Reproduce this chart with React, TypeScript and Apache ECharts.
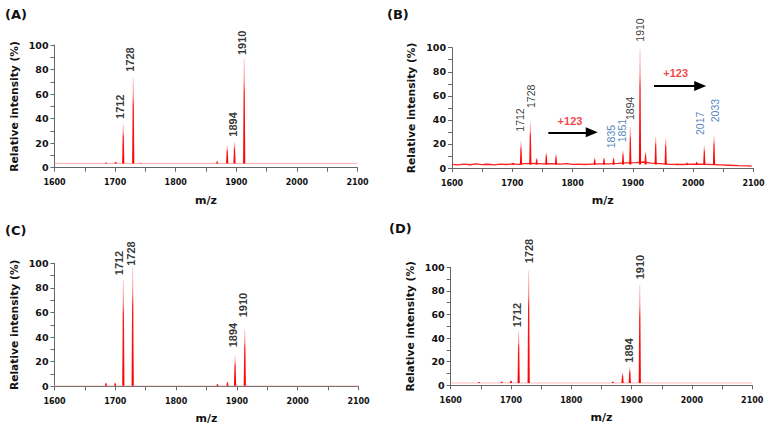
import React, { useEffect, useRef } from 'react';
import * as echarts from 'echarts';

// ---------- data (m/z, relative intensity %) ----------
const peaksA: number[][] = [
  [1685, 4.5], [1701, 5], [1713.4, 35.4], [1729.9, 73.3], [1742, 4.2],
  [1868.5, 5.5], [1885, 18], [1897, 20.7], [1913, 89],
];
const peaksB: number[][] = [
  [1656, 4], [1701.7, 4.8], [1714.4, 22], [1729.9, 38], [1740.4, 8.5], [1756.4, 13],
  [1772.5, 11.6], [1836.6, 8.5], [1852, 9], [1868, 9], [1883.6, 14.4], [1895.7, 34],
  [1911.8, 98.7], [1921, 14], [1937.8, 26], [1954.4, 24.7], [1973.6, 4], [1989.7, 4.8],
  [2005.8, 5.5], [2018.4, 18.5], [2034.5, 27],
];
const peaksC: number[][] = [
  [1684.6, 3], [1699.8, 3], [1713.2, 86.4], [1728.6, 96], [1868, 2], [1884.5, 4],
  [1897, 24.6], [1913, 46],
];
const peaksD: number[][] = [
  [1647, 2.8], [1684.5, 3.5], [1700, 4.5], [1712.7, 46], [1729.3, 97],
  [1868.7, 3.5], [1885, 10.7], [1897, 15.5], [1913.6, 85],
];

// baselines (m/z, %)
const baselineA: number[][] = [[1600, 3.5], [2100, 3.5]];
const baselineB: number[][] = [
  [1600, 3], [1610, 2.6], [1620, 3.2], [1630, 2.7], [1640, 3.4], [1650, 2.8], [1660, 3.1],
  [1670, 2.6], [1680, 3.3], [1690, 2.9], [1700, 3.4], [1710, 3.0], [1720, 3.6], [1735, 3.8],
  [1750, 3.5], [1765, 3.6], [1780, 3.2], [1790, 3.6], [1800, 3.0], [1810, 3.2], [1820, 2.9],
  [1830, 3.3], [1845, 3.4], [1860, 3.5], [1875, 3.8], [1890, 4.2], [1905, 4.5], [1918, 5],
  [1930, 4.0], [1945, 3.6], [1962, 3.0], [1980, 2.9], [1995, 3.1], [2010, 3.2], [2025, 3.0],
  [2045, 2.6], [2060, 2.3], [2075, 2.0], [2090, 1.8], [2097, 1.6],
];
const baselineC: number[][] = [[1600, 0.5], [2100, 0.5]];
const baselineD: number[][] = [[1600, 2], [2100, 2]];

// peak annotations: [text, m/z, label base %]
const labelsA: [string, number, number][] = [
  ['1712', 1708.4, 39.7], ['1728', 1725.4, 78.2], ['1894', 1894.2, 25.3], ['1910', 1909.7, 91.8],
];
const labelsB: [string, number, number][] = [
  ['1712', 1712.8, 30.2], ['1728', 1730.5, 49.9], ['1894', 1895.2, 39.9], ['1910', 1911.8, 105],
];
const blueLabelsB: [string, number, number][] = [
  ['1835', 1864.5, 16.4], ['1851', 1881.4, 21.4], ['2017', 2011.3, 27.4], ['2033', 2036.2, 38],
];
const labelsC: [string, number, number][] = [
  ['1712', 1706.6, 90.3], ['1728', 1725.8, 98], ['1894', 1893.1, 31.7], ['1910', 1909.5, 56.1],
];
const labelsD: [string, number, number][] = [
  ['1712', 1709.5, 49.2], ['1728', 1729.4, 103.4], ['1894', 1895.7, 19.2], ['1910', 1913.9, 89.8],
];
// "+123" shift arrows in B: [from m/z, to m/z, level %], text at [m/z, %]
const arrowsB: number[][] = [[1759.7, 1831.8, 29.7], [1935, 2011.6, 68.2]];
const shiftTextB: [string, number, number][] = [['+123', 1795.7, 39.3], ['+123', 1971, 79.2]];

const X_NAME = 'm/z';
const Y_NAME = 'Relative intensity (%)';

const AXIS_FONT = '"DejaVu Sans", Verdana, sans-serif';
const PEAK_FONT = '"Liberation Sans", Arial, sans-serif';

type Panel = {
  id: string;
  grid: { left: number; top: number; width: number; height: number };
  titlePos: { left: number; top: number };
  base: number;
  peaks: number[][];
  baseline: number[][];
  baselineColor: string;
  baselineWidth: number;
  labels: [string, number, number][];
  labelWeight: string;
  labelSize: number;
};

const panels: Panel[] = [
  {
    id: 'A', grid: { left: 54.5, top: 45, width: 303, height: 122.7 }, titlePos: { left: 5, top: 8 },
    base: 3.5, peaks: peaksA, baseline: baselineA, baselineColor: '#ffb0b0', baselineWidth: 1,
    labels: labelsA, labelWeight: 'bold', labelSize: 11,
  },
  {
    id: 'B', grid: { left: 452, top: 47.7, width: 301.5, height: 120.3 }, titlePos: { left: 387, top: 8 },
    base: 3, peaks: peaksB, baseline: baselineB, baselineColor: '#ff2020', baselineWidth: 1.3,
    labels: labelsB, labelWeight: 'normal', labelSize: 10.5,
  },
  {
    id: 'C', grid: { left: 54.5, top: 263.3, width: 304, height: 123 }, titlePos: { left: 5, top: 224 },
    base: 0.5, peaks: peaksC, baseline: baselineC, baselineColor: '#ffd6d6', baselineWidth: 1,
    labels: labelsC, labelWeight: 'bold', labelSize: 11,
  },
  {
    id: 'D', grid: { left: 450.7, top: 267.3, width: 301.5, height: 118 }, titlePos: { left: 389, top: 222 },
    base: 2, peaks: peaksD, baseline: baselineD, baselineColor: '#ffbcbc', baselineWidth: 1,
    labels: labelsD, labelWeight: 'bold', labelSize: 11,
  },
];

const AXIS_COLOR = '#666';

function buildOption() {
  const grids = panels.map((p) => ({ ...p.grid, containLabel: false }));
  const xAxes = panels.map((_, i) => ({
    type: 'value', gridIndex: i, min: 1600, max: 2100, interval: 100,
    name: X_NAME, nameLocation: 'middle', nameGap: 27,
    nameTextStyle: { fontFamily: AXIS_FONT, fontWeight: 'bold', fontSize: 11, color: '#111' },
    axisLine: { show: true, onZero: false, lineStyle: { color: AXIS_COLOR, width: 1 } },
    axisTick: { show: true, length: 4, lineStyle: { color: AXIS_COLOR } },
    minorTick: { show: true, splitNumber: 2, length: 4, lineStyle: { color: AXIS_COLOR } },
    splitLine: { show: false },
    axisLabel: {
      fontFamily: AXIS_FONT, fontWeight: 'bold', fontSize: 8, color: '#111', margin: 11,
      formatter: (v: number) => String(v),
    },
  }));
  const yAxes = panels.map((_, i) => ({
    type: 'value', gridIndex: i, min: 0, max: 100, interval: 20,
    name: Y_NAME, nameLocation: 'middle', nameGap: 35,
    nameTextStyle: { fontFamily: AXIS_FONT, fontWeight: 'bold', fontSize: 10.7, color: '#111' },
    axisLine: { show: true, onZero: false, lineStyle: { color: AXIS_COLOR, width: 1 } },
    axisTick: { show: true, length: 4, lineStyle: { color: AXIS_COLOR } },
    minorTick: { show: true, splitNumber: 2, length: 4, lineStyle: { color: AXIS_COLOR } },
    splitLine: { show: false },
    axisLabel: {
      fontFamily: AXIS_FONT, fontWeight: 'bold', fontSize: 9.5, color: '#111', margin: 6,
      formatter: (v: number) => String(v),
    },
  }));

  const peakFill = () =>
    new echarts.graphic.LinearGradient(0, 0, 0, 1, [
      { offset: 0, color: '#ffc8c8' },
      { offset: 0.22, color: '#ff8080' },
      { offset: 0.32, color: '#ff1a1a' },
      { offset: 1, color: '#ff0000' },
    ]);

  const series: any[] = [];
  panels.forEach((p, i) => {
    series.push({
      type: 'line', xAxisIndex: i, yAxisIndex: i, data: p.baseline, showSymbol: false, symbol: 'none',
      lineStyle: { color: p.baselineColor, width: p.baselineWidth }, silent: true, z: 2,
    });
    series.push({
      type: 'custom', xAxisIndex: i, yAxisIndex: i, data: p.peaks, silent: true, z: 3,
      encode: { x: 0, y: 1 },
      renderItem: (_params: any, api: any) => {
        const mz = api.value(0);
        const h = api.value(1);
        const top = api.coord([mz, h]);
        const bot = api.coord([mz, p.base]);
        return {
          type: 'polygon',
          shape: {
            points: [
              [bot[0] - 1.1, bot[1]], [top[0] - 0.4, top[1]], [top[0] + 0.4, top[1]], [bot[0] + 1.1, bot[1]],
            ],
          },
          style: { fill: peakFill() },
        };
      },
    });
    series.push({
      type: 'scatter', xAxisIndex: i, yAxisIndex: i, symbolSize: 1, clip: false, silent: true, z: 5,
      itemStyle: { color: 'rgba(0,0,0,0)' },
      data: p.labels.map(([t, x, y]) => ({ name: t, value: [x, y] })),
      label: {
        show: true, formatter: '{b}', position: 'inside', rotate: 90, align: 'left', verticalAlign: 'middle',
        fontFamily: PEAK_FONT, fontWeight: p.labelWeight, fontSize: p.labelSize, color: '#000',
      },
    });
  });

  // panel B extras
  series.push({
    type: 'scatter', xAxisIndex: 1, yAxisIndex: 1, symbolSize: 1, clip: false, silent: true, z: 5,
    itemStyle: { color: 'rgba(0,0,0,0)' },
    data: blueLabelsB.map(([t, x, y]) => ({ name: t, value: [x, y] })),
    label: {
      show: true, formatter: '{b}', position: 'inside', rotate: 90, align: 'left', verticalAlign: 'middle',
      fontFamily: PEAK_FONT, fontWeight: 'normal', fontSize: 10.5, color: '#2463ad',
    },
  });
  series.push({
    type: 'scatter', xAxisIndex: 1, yAxisIndex: 1, symbolSize: 1, clip: false, silent: true, z: 5,
    itemStyle: { color: 'rgba(0,0,0,0)' },
    data: shiftTextB.map(([t, x, y]) => ({ name: t, value: [x, y] })),
    label: {
      show: true, formatter: '{b}', position: 'inside', align: 'center', verticalAlign: 'middle',
      fontFamily: PEAK_FONT, fontWeight: 'bold', fontSize: 11, color: '#ee1111',
    },
    markLine: {
      silent: true, animation: false,
      lineStyle: { color: '#000', width: 2, type: 'solid' },
      label: { show: false },
      emphasis: { disabled: true },
      data: arrowsB.map(([x1, x2, y]) => [
        { coord: [x1, y], symbol: 'none' },
        { coord: [x2, y], symbol: 'triangle', symbolSize: [10, 12] },
      ]),
    },
  });

  return {
    animation: false,
    backgroundColor: '#fff',
    title: panels.map((p) => ({
      text: `(${p.id})`, left: p.titlePos.left, top: p.titlePos.top, padding: 0,
      textStyle: { fontFamily: AXIS_FONT, fontWeight: 'bold', fontSize: 13, color: '#111' },
    })),
    grid: grids,
    xAxis: xAxes,
    yAxis: yAxes,
    series,
  };
}

export default function App() {
  const ref = useRef<HTMLDivElement>(null);
  useEffect(() => {
    if (!ref.current) return;
    const chart = echarts.init(ref.current, undefined, { renderer: 'svg' });
    chart.setOption(buildOption() as any);
    return () => chart.dispose();
  }, []);
  return (
    <div
      ref={ref}
      style={{ position: 'fixed', left: 0, top: 0, width: 769, height: 428, background: '#fff' }}
    />
  );
}
